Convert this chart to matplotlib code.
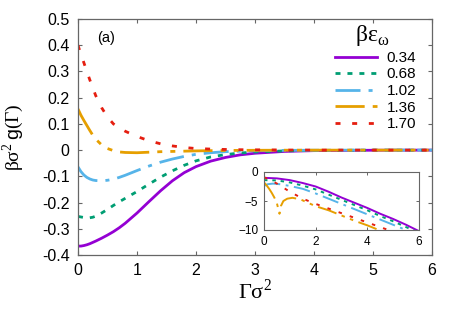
import matplotlib
matplotlib.use("Agg")
import matplotlib.pyplot as plt

plt.rcParams['font.family'] = ['Liberation Sans', 'DejaVu Sans']
plt.rcParams['mathtext.fontset'] = 'custom'
plt.rcParams['mathtext.rm'] = 'Liberation Serif'
plt.rcParams['mathtext.sf'] = 'Liberation Sans'
plt.rcParams['lines.scale_dashes'] = False

# main panel: g(Gamma)
gam = [0, 0.05, 0.1, 0.15, 0.2, 0.25, 0.3, 0.4, 0.5, 0.6, 0.7, 0.8, 1.0, 1.2,
       1.4, 1.6, 1.8, 2.0, 2.25, 2.5, 2.75, 3.0, 3.5, 4.0, 5.0, 6.0]
g034 = [-0.366, -0.366, -0.364, -0.361, -0.357, -0.352, -0.347, -0.336, -0.324,
        -0.311, -0.296, -0.279, -0.240, -0.197, -0.155, -0.117, -0.086, -0.063,
        -0.042, -0.028, -0.018, -0.012, -0.005, -0.002, -0.0005, 0.0]
g068 = [-0.253, -0.255, -0.257, -0.258, -0.258, -0.256, -0.252, -0.240, -0.226,
        -0.211, -0.197, -0.184, -0.158, -0.130, -0.103, -0.079, -0.058, -0.041,
        -0.026, -0.017, -0.011, -0.007, -0.003, -0.0012, -0.0003, 0.0]
g102 = [-0.064, -0.082, -0.095, -0.104, -0.110, -0.114, -0.116, -0.117, -0.115,
        -0.111, -0.104, -0.096, -0.078, -0.061, -0.046, -0.034, -0.024, -0.016,
        -0.010, -0.006, -0.004, -0.0025, -0.001, -0.0004, 0.0, 0.0]
g136 = [0.157, 0.133, 0.113, 0.094, 0.075, 0.057, 0.042, 0.020, 0.006, -0.002,
        -0.007, -0.009, -0.010, -0.008, -0.006, -0.005, -0.004, -0.003, -0.002,
        -0.0015, -0.001, -0.0007, -0.0004, -0.0002, 0.0, 0.0]
g170 = [0.400, 0.365, 0.333, 0.300, 0.268, 0.238, 0.208, 0.162, 0.126, 0.100,
        0.085, 0.072, 0.052, 0.036, 0.024, 0.016, 0.010, 0.006, 0.004, 0.0025,
        0.0015, 0.001, 0.0004, 0.0002, 0.0, 0.0]

# inset: log|g|
x034 = [0, 0.5, 1.0, 1.5, 2.0, 2.5, 3.0, 3.5, 4.0, 4.5, 5.0, 5.5, 6.0]
l034 = [-1.0, -1.1, -1.4, -1.9, -2.5, -3.4, -4.4, -5.3, -6.2, -7.2, -8.1, -9.1, -10.2]
x068 = [0, 0.5, 1.0, 1.5, 2.0, 2.5, 3.0, 3.5, 4.0, 4.5, 5.0, 5.5, 6.0]
l068 = [-1.4, -1.45, -1.8, -2.35, -3.0, -3.9, -4.8, -5.7, -6.6, -7.6, -8.5, -9.5, -10.5]
x102 = [0, 0.15, 0.35, 0.6, 1.0, 1.5, 2.0, 2.5, 3.0, 3.5, 4.0, 4.5, 5.0, 5.5, 6.0]
l102 = [-2.4, -2.1, -2.0, -2.1, -2.4, -2.9, -3.7, -4.6, -5.5, -6.4, -7.3, -8.2,
        -9.1, -10.0, -10.9]
x136 = [0, 0.1, 0.2, 0.3, 0.4, 0.5, 0.6, 0.65, 0.75, 0.9, 1.1, 1.4, 2.0, 2.5,
        3.0, 3.5, 4.0, 4.5, 5.0]
l136 = [-1.8, -2.3, -2.9, -3.6, -4.4, -5.4, -7.2, -5.9, -5.0, -4.6, -4.45, -4.7,
        -5.9, -6.6, -7.5, -8.4, -9.2, -10.1, -10.9]
x170 = [0, 0.25, 0.5, 0.75, 1.0, 1.5, 2.0, 2.5, 3.0, 3.5, 4.0, 4.5, 5.0]
l170 = [-0.9, -1.4, -2.0, -2.7, -3.4, -4.6, -5.5, -6.3, -7.1, -7.9, -8.7, -9.5, -10.3]

labels = ['0.34', '0.68', '1.02', '1.36', '1.70']
colors = ['#9400D3', '#009E73', '#56B4E9', '#E69F00', '#E51E10']
dashes = [None, (3.6, 5.0), (18, 5.8, 2.9, 5.8), (21, 5.8, 3.6, 5.8, 3.6, 5.8), (3.6, 8.4)]
dashes_in = [None, (2.5, 3.5), (12, 4, 2, 4), (14, 4, 2.5, 4, 2.5, 4), (2.5, 6)]

fig = plt.figure(figsize=(4.6, 3.22), dpi=100)
ax = fig.add_axes([78/460, 67/322, 354/460, 236/322])

main_data = [g034, g068, g102, g136, g170]
for y, c, d, lab in zip(main_data, colors, dashes, labels):
    ln, = ax.plot(gam, y, color=c, lw=2.0, label=lab)
    if d is not None:
        ln.set_dashes(d)

ax.set_xlim(0, 6)
ax.set_ylim(-0.4, 0.5)
ax.set_xticks(range(7))
ax.set_yticks([-0.4, -0.3, -0.2, -0.1, 0, 0.1, 0.2, 0.3, 0.4, 0.5])
ax.set_yticklabels(['-0.4', '-0.3', '-0.2', '-0.1', '0', '0.1', '0.2', '0.3', '0.4', '0.5'])
ax.tick_params(direction='in', length=3, width=0.8, color='#666666',
               top=True, right=True, labelsize=11.5, pad=6)
for s in ax.spines.values():
    s.set_color('#666666')
    s.set_linewidth(0.9)

ax.text(0.054, 0.92, '(a)', transform=ax.transAxes, fontsize=10.5, va='center')

# legend title drawn on its own so the gap above the entries matches
ax.text(0.831, 0.928, r'$\mathrm{βε}_{\mathrm{ω}}$', transform=ax.transAxes,
        fontsize=17, ha='center', va='center')
leg = ax.legend(loc='upper right', bbox_to_anchor=(0.955, 0.865), frameon=False,
                fontsize=11, handlelength=2.8, handletextpad=0.6,
                labelspacing=0.17, borderpad=0, borderaxespad=0)

fig.text(13/460, 1 - 137/322, r'$\mathrm{βσ}^{2}\,\mathsf{g}(\mathrm{Γ})$',
         rotation=90, ha='center', va='center', fontsize=14)
fig.text(255/460, 1 - 292/322, r'$\mathrm{Γσ}^{2}$', ha='center', va='center',
         fontsize=16)

# inset
axi = fig.add_axes([264/460, 92/322, 155/460, 58/322])
inset_x = [x034, x068, x102, x136, x170]
inset_y = [l034, l068, l102, l136, l170]
for xs, ys, c, d in zip(inset_x, inset_y, colors, dashes_in):
    ln, = axi.plot(xs, ys, color=c, lw=1.4)
    if d is not None:
        ln.set_dashes(d)
axi.set_xlim(0, 6)
axi.set_ylim(-10, 0)
axi.set_xticks([0, 2, 4, 6])
axi.set_yticks([-10, -5, 0])
axi.tick_params(direction='in', length=2.5, width=0.7, color='#666666',
                top=True, right=True, labelsize=8.5, pad=4)
for s in axi.spines.values():
    s.set_color('#666666')
    s.set_linewidth(0.8)

fig.savefig('out.png', dpi=100)
